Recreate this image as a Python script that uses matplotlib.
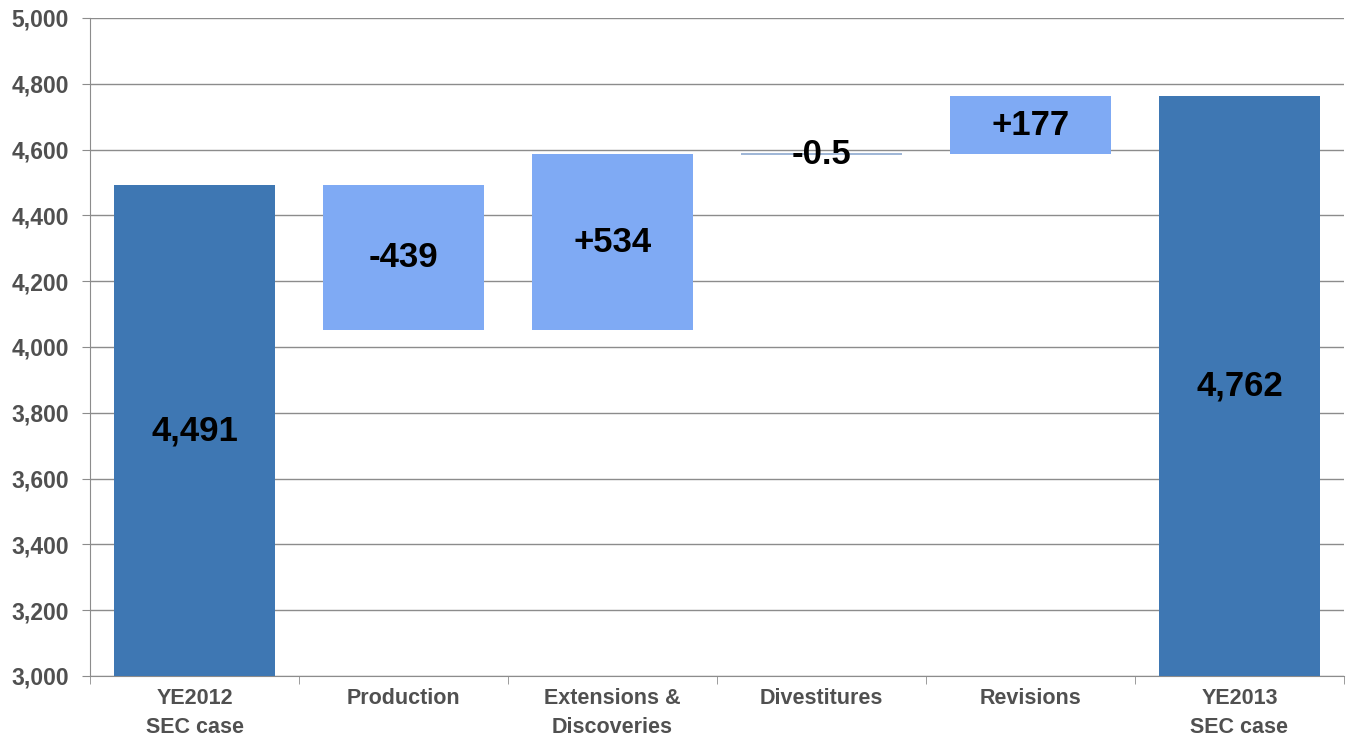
import matplotlib.pyplot as plt
import numpy as np

# Waterfall data
categories = ['YE2012\nSEC case', 'Production', 'Extensions &\nDiscoveries',
              'Divestitures', 'Revisions', 'YE2013\nSEC case']
start_total = 4491
changes = [-439, 534, -0.5, 177]
end_total = 4762
labels = ['4,491', '-439', '+534', '-0.5', '+177', '4,762']

dark = '#3E77B3'
light = '#7FAAF4'

plt.rcParams['font.family'] = ['Liberation Sans', 'DejaVu Sans']

fig = plt.figure(figsize=(13.46, 7.40), dpi=100)
ax = fig.add_axes([0.0669, 0.0865, 0.9316, 0.8892])

x = np.arange(len(categories))
bottoms = [3000]
heights = [start_total - 3000]
level = start_total
for c in changes:
    new = level + c
    bottoms.append(min(level, new))
    heights.append(abs(c))
    level = new
bottoms.append(3000)
heights.append(end_total - 3000)
colors = [dark] + [light] * len(changes) + [dark]

ax.bar(x, heights, bottom=bottoms, width=0.77, color=colors, zorder=3)
# divestitures is too small to see: draw it as a thin line
ax.hlines(bottoms[3], x[3] - 0.385, x[3] + 0.385, color='#8DA9CF', lw=1.2, zorder=3)

for i in range(len(x)):
    ax.text(x[i], bottoms[i] + heights[i] / 2, labels[i], ha='center', va='center',
            fontsize=25, fontweight='bold', color='black', zorder=4)

ax.set_xlim(-0.5, len(x) - 0.5)
ax.set_ylim(3000, 5000)
ax.set_yticks(np.arange(3000, 5001, 200))
ax.set_yticklabels(['{:,}'.format(v) for v in range(3000, 5001, 200)])
ax.set_xticks(x)
ax.set_xticklabels(categories, linespacing=1.45)
ax.set_xticks(np.arange(-0.5, len(x), 1), minor=True)

ax.grid(axis='y', color='#8C8C8C', lw=1, zorder=0)
for s in ['top', 'right']:
    ax.spines[s].set_visible(False)
for s in ['left', 'bottom']:
    ax.spines[s].set_color('#8C8C8C')
ax.tick_params(axis='x', which='major', length=0, pad=9)
ax.tick_params(axis='x', which='minor', length=6, color='#8C8C8C')
ax.tick_params(axis='y', length=6, color='#8C8C8C', pad=9)
for t in ax.get_xticklabels():
    t.set_fontsize(15.5)
    t.set_fontweight('bold')
    t.set_color('#505050')
for t in ax.get_yticklabels():
    t.set_fontsize(16.5)
    t.set_fontweight('bold')
    t.set_color('#505050')

fig.savefig('out.png', dpi=100)
